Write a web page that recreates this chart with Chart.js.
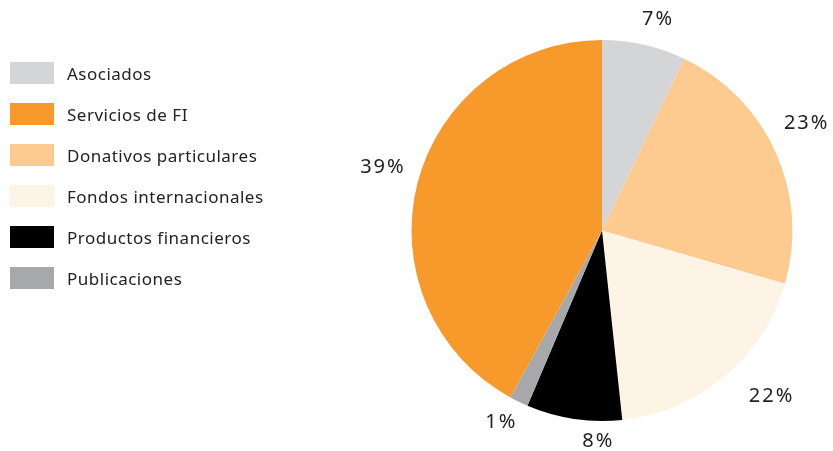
<!DOCTYPE html>
<html>
<head>
<meta charset="utf-8">
<script src="https://cdn.jsdelivr.net/npm/chart.js@4"></script>
<style>
  html, body { margin: 0; padding: 0; background: #fff; }
  #wrap { position: relative; width: 833px; height: 451px; }
  #leyenda { position: absolute; left: 10px; top: 62px; font-family: "Noto Sans", sans-serif; font-size: 17px; letter-spacing: 0.5px; color: #222; }
  .item { display: flex; align-items: center; height: 22px; margin-bottom: 19px; }
  .caja { width: 44px; height: 22px; margin-right: 13px; }
</style>
</head>
<body>
<div id="wrap">
  <canvas id="grafico" width="833" height="451"></canvas>
  <div id="leyenda"></div>
</div>
<script>
// orden de las porciones (sentido horario desde arriba)
const categorias = ["Asociados", "Donativos particulares", "Fondos internacionales", "Productos financieros", "Publicaciones", "Servicios de FI"];
const valores = [7.1, 22.4, 18.8, 8.1, 1.6, 42.0];
const etiquetas = ["7%", "23%", "22%", "8%", "1%", "39%"];
const colores = ["#d4d5d7", "#fdca90", "#fdf4e6", "#000000", "#a7a8ab", "#f7992b"];
// orden de la leyenda
const ordenLeyenda = ["Asociados", "Servicios de FI", "Donativos particulares", "Fondos internacionales", "Productos financieros", "Publicaciones"];

//leyenda en html
const leyenda = document.getElementById('leyenda');
ordenLeyenda.forEach(function(nombre) {
  const i = categorias.indexOf(nombre);
  const fila = document.createElement('div');
  fila.className = 'item';
  fila.innerHTML = '<span class="caja" style="background:' + colores[i] + '"></span>' + nombre;
  leyenda.appendChild(fila);
});

//etiquetas de porcentaje fuera del pastel
const etiquetasFuera = {
  id: 'etiquetasFuera',
  afterDatasetsDraw(chart, args, opts) {
    const ctx = chart.ctx;
    const meta = chart.getDatasetMeta(0);
    ctx.save();
    ctx.font = '20px "Noto Sans", sans-serif';
    ctx.letterSpacing = '2px';
    ctx.fillStyle = '#222';
    ctx.textAlign = 'center';
    ctx.textBaseline = 'middle';
    meta.data.forEach(function(arc, i) {
      const p = arc.getProps(['x', 'y', 'startAngle', 'endAngle', 'outerRadius'], true);
      const a = (p.startAngle + p.endAngle) / 2 + (opts.ajuste[i] || 0) * Math.PI / 180;
      const ux = Math.cos(a), uy = Math.sin(a);
      const w = ctx.measureText(etiquetas[i]).width;
      const r = p.outerRadius + opts.distancia[i];
      const x = p.x + r * ux + (w / 2) * ux;
      const y = p.y + r * uy + 9 * uy;
      ctx.fillText(etiquetas[i], x, y);
    });
    ctx.restore();
  }
};

const ctx = document.getElementById('grafico');
new Chart(ctx, {
  type: 'pie',
  data: {
    labels: categorias,
    datasets: [{
      data: valores,
      backgroundColor: colores,
      borderWidth: 0
    }]
  },
  options: {
    responsive: false,
    animation: false,
    layout: { padding: { left: 411, right: 40, top: 40, bottom: 30 } },
    plugins: {
      legend: { display: false },
      tooltip: { enabled: false },
      etiquetasFuera: {
        ajuste: [1.6, -5.0, -4.0, -7.5, 1.0, 2.7],
        distancia: [19, 21, 31, 11, 16, 16]
      }
    }
  },
  plugins: [etiquetasFuera]
});
</script>
</body>
</html>
